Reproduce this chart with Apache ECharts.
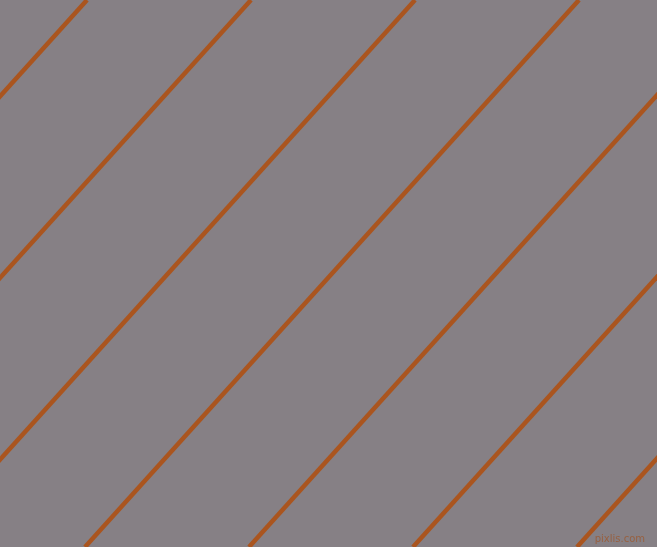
<!DOCTYPE html>
<html>
<head>
<meta charset="utf-8">
<script src="https://cdn.jsdelivr.net/npm/echarts@6/dist/echarts.min.js"></script>
<style>html,body{margin:0;padding:0;background:#868085;}#c{width:657px;height:547px;}</style>
</head>
<body>
<div id="c"></div>
<script>
// x positions where each stripe crosses the top edge (y=0) and bottom edge (y=547)
var topX = [87, 251, 415, 579, 743, 907, 1071];
var bottomX = [-407, -243, -79, 85, 249, 413, 577];
var yTop = 0, yBottom = 547;

var chart = echarts.init(document.getElementById('c'));
var series = topX.map(function (tx, i) {
  return {
    type: 'line',
    data: [[tx, yTop], [bottomX[i], yBottom]],
    symbol: 'none',
    clip: true,
    silent: true,
    animation: false,
    lineStyle: { color: '#aa551f', width: 4.5 }
  };
});
chart.setOption({
  backgroundColor: '#868085',
  animation: false,
  grid: { left: 0, right: 0, top: 0, bottom: 0 },
  xAxis: { type: 'value', min: 0, max: 657, show: false },
  yAxis: { type: 'value', min: 0, max: 547, inverse: true, show: false },
  graphic: [{
    type: 'text',
    right: 12,
    bottom: 3,
    style: { text: 'pixlis.com', fill: '#9a5a35', opacity: 0.85, font: '10px "DejaVu Sans", sans-serif' }
  }],
  series: series
});
</script>
</body>
</html>
